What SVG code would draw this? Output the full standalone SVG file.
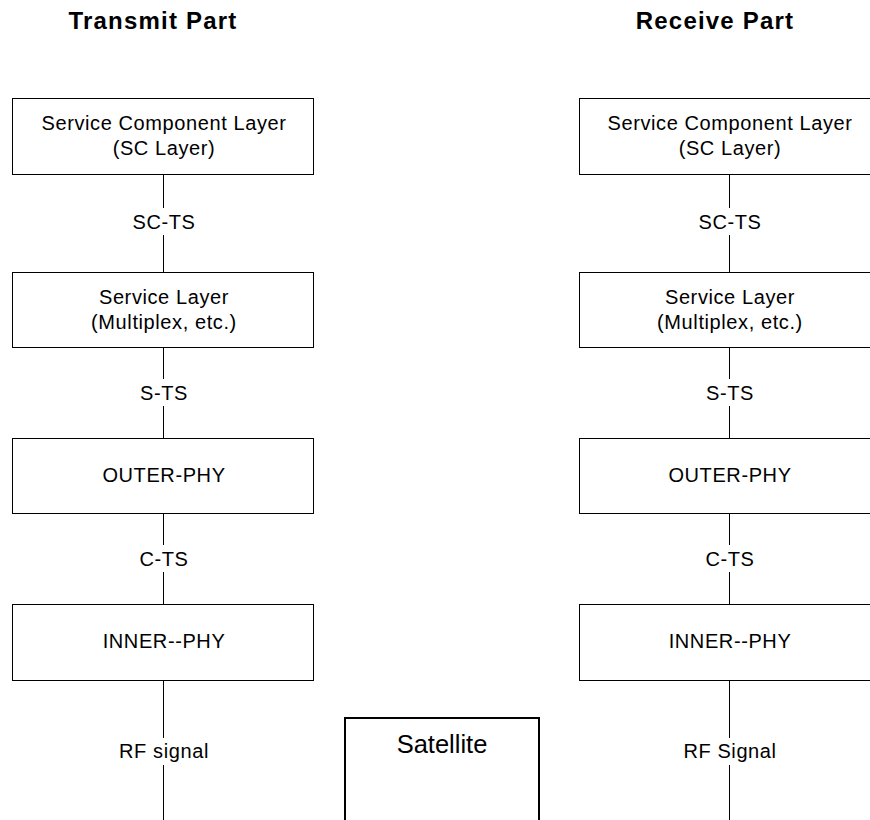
<svg xmlns="http://www.w3.org/2000/svg" width="870" height="820" viewBox="0 0 870 820">
<style>
.box{fill:#fff;stroke:#000;stroke-width:1}
.t{font-family:"Liberation Sans",Arial,sans-serif;font-size:20px;letter-spacing:0.6px;fill:#000;text-anchor:middle}
.h{font-family:"Liberation Sans",Arial,sans-serif;font-size:24px;letter-spacing:1.2px;font-weight:bold;fill:#000;text-anchor:middle}
.ln{stroke:#000;stroke-width:1;fill:none}
.lb{fill:#fff}
</style>
<rect width="870" height="820" fill="#fff"/>
<text class="h" x="153" y="29">Transmit Part</text>
<text class="h" x="715" y="29">Receive Part</text>
<g id="connectors">
<line class="ln" x1="163.5" y1="174" x2="163.5" y2="272"/>
<line class="ln" x1="163.5" y1="347" x2="163.5" y2="438"/>
<line class="ln" x1="163.5" y1="513" x2="163.5" y2="604"/>
<line class="ln" x1="163.5" y1="680" x2="163.5" y2="820"/>
<line class="ln" x1="729.5" y1="174" x2="729.5" y2="272"/>
<line class="ln" x1="729.5" y1="347" x2="729.5" y2="438"/>
<line class="ln" x1="729.5" y1="513" x2="729.5" y2="604"/>
<line class="ln" x1="729.5" y1="680" x2="729.5" y2="820"/>
<rect class="lb" x="115" y="208" width="97" height="27"/>
<text class="t" x="164" y="229">SC-TS</text>
<rect class="lb" x="128" y="379" width="72" height="27"/>
<text class="t" x="164" y="400">S-TS</text>
<rect class="lb" x="128" y="545" width="72" height="27"/>
<text class="t" x="164" y="566">C-TS</text>
<rect class="lb" x="108" y="738" width="110" height="27"/>
<text class="t" x="164" y="758">RF signal</text>
<rect class="lb" x="681" y="208" width="97" height="27"/>
<text class="t" x="730" y="229">SC-TS</text>
<rect class="lb" x="694" y="379" width="72" height="27"/>
<text class="t" x="730" y="400">S-TS</text>
<rect class="lb" x="694" y="545" width="72" height="27"/>
<text class="t" x="730" y="566">C-TS</text>
<rect class="lb" x="674" y="738" width="112" height="27"/>
<text class="t" x="730" y="758">RF Signal</text>
</g>
<g id="tx-sc">
<rect class="box" x="12.5" y="98.5" width="301" height="76"/>
<text class="t" x="164" y="130">Service Component Layer</text>
<text class="t" x="164" y="155">(SC Layer)</text>
</g>
<g id="tx-service">
<rect class="box" x="12.5" y="272.5" width="301" height="75"/>
<text class="t" x="164" y="304">Service Layer</text>
<text class="t" x="164" y="329">(Multiplex, etc.)</text>
</g>
<g id="tx-outer">
<rect class="box" x="12.5" y="438.5" width="301" height="75"/>
<text class="t" x="164" y="482">OUTER-PHY</text>
</g>
<g id="tx-inner">
<rect class="box" x="12.5" y="604.5" width="301" height="76"/>
<text class="t" x="164" y="648">INNER--PHY</text>
</g>
<g id="rx-sc">
<rect class="box" x="579.5" y="98.5" width="301" height="76"/>
<text class="t" x="730" y="130">Service Component Layer</text>
<text class="t" x="730" y="155">(SC Layer)</text>
</g>
<g id="rx-service">
<rect class="box" x="579.5" y="272.5" width="301" height="75"/>
<text class="t" x="730" y="304">Service Layer</text>
<text class="t" x="730" y="329">(Multiplex, etc.)</text>
</g>
<g id="rx-outer">
<rect class="box" x="579.5" y="438.5" width="301" height="75"/>
<text class="t" x="730" y="482">OUTER-PHY</text>
</g>
<g id="rx-inner">
<rect class="box" x="579.5" y="604.5" width="301" height="76"/>
<text class="t" x="730" y="648">INNER--PHY</text>
</g>
<g id="satellite">
<rect x="345" y="718" width="194" height="120" fill="#fff" stroke="#000" stroke-width="2"/>
<text x="442" y="753" style="font-family:'Liberation Sans',Arial,sans-serif;font-size:25.5px;text-anchor:middle;fill:#000">Satellite</text>
</g>
</svg>
